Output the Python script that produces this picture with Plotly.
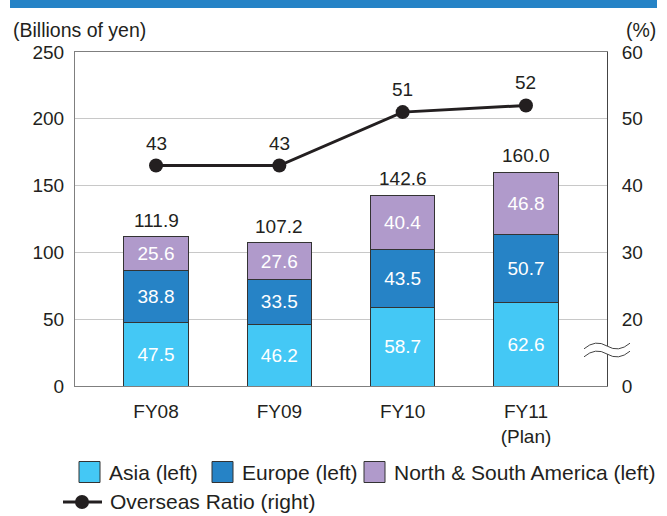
import plotly.graph_objects as go

categories = ["FY08", "FY09", "FY10", "FY11<br>(Plan)"]
asia = [47.5, 46.2, 58.7, 62.6]
europe = [38.8, 33.5, 43.5, 50.7]
americas = [25.6, 27.6, 40.4, 46.8]
totals = [111.9, 107.2, 142.6, 160.0]
ratio = [43, 43, 51, 52]

left_ticks = [0, 50, 100, 150, 200, 250]
right_tickvals = [10, 20, 30, 40, 50, 60]
right_ticktext = ["0", "20", "30", "40", "50", "60"]

FONT = "Liberation Sans, Arial, sans-serif"
FS = 19
LFS = 21
TXT = "#231F20"
C_ASIA = "#44C8F5"
C_EUR = "#2683C6"
C_AM = "#B09ACB"

series = [("Asia (left)", asia, C_ASIA),
          ("Europe (left)", europe, C_EUR),
          ("North & South America (left)", americas, C_AM)]

fig = go.Figure()
for name, vals, col in series:
    fig.add_trace(go.Bar(
        x=categories, y=vals, name=name,
        marker=dict(color=col, line=dict(color="#333333", width=1)),
        width=0.52,
        text=[f"{v:.1f}" for v in vals], textposition="inside",
        insidetextanchor="middle", textangle=0,
        textfont=dict(color="white", size=FS, family=FONT),
        hoverinfo="skip", showlegend=False,
    ))

fig.add_trace(go.Scatter(
    x=categories, y=ratio, name="Overseas Ratio (right)", yaxis="y2",
    mode="lines+markers",
    line=dict(color=TXT, width=3),
    marker=dict(color=TXT, size=14),
    showlegend=False,
))

def px_x(p):
    return (p - 75) / 532

def px_y(p):
    return (386 - p) / 334

annotations = []
for c, t in zip(categories, totals):
    annotations.append(dict(x=c, y=t, xref="x", yref="y", text=f"{t:.1f}",
                            showarrow=False, yanchor="bottom", yshift=4,
                            font=dict(size=FS, color=TXT, family=FONT)))
for c, r in zip(categories, ratio):
    annotations.append(dict(x=c, y=r, xref="x", yref="y2", text=f"{r}",
                            showarrow=False, yanchor="bottom", yshift=10,
                            font=dict(size=FS, color=TXT, family=FONT)))
annotations.append(dict(x=px_x(11), y=px_y(30), xref="paper", yref="paper",
                        text="(Billions of yen)", showarrow=False,
                        xanchor="left", yanchor="middle",
                        font=dict(size=19.5, color=TXT, family=FONT)))
annotations.append(dict(x=px_x(658), y=px_y(30), xref="paper", yref="paper",
                        text="(%)", showarrow=False, xanchor="right", yanchor="middle",
                        font=dict(size=19.5, color=TXT, family=FONT)))

shapes = [
    dict(type="rect", xref="paper", yref="paper",
         x0=px_x(10), x1=px_x(657), y0=px_y(8), y1=px_y(0),
         fillcolor=C_EUR, line=dict(width=0), layer="above"),
]

# manual legend
r1 = 472
r2 = 502
leg_row1 = px_y(r1)
sq_x = [79, 212, 364]
half = 10.5
for (name, vals, col), sx in zip(series, sq_x):
    shapes.append(dict(type="rect", xref="paper", yref="paper",
                       x0=px_x(sx), x1=px_x(sx + 21),
                       y0=px_y(r1 + half), y1=px_y(r1 - half),
                       fillcolor=col, line=dict(color="#333333", width=1), layer="above"))
    annotations.append(dict(x=px_x(sx + 28), y=leg_row1, xref="paper", yref="paper",
                            text=name, showarrow=False, xanchor="left", yanchor="middle",
                            font=dict(size=LFS, color=TXT, family=FONT)))
shapes.append(dict(type="line", xref="paper", yref="paper",
                   x0=px_x(63), x1=px_x(102), y0=px_y(r2), y1=px_y(r2),
                   line=dict(color=TXT, width=3), layer="above"))
shapes.append(dict(type="circle", xref="paper", yref="paper",
                   x0=px_x(75), x1=px_x(89), y0=px_y(r2 + 7), y1=px_y(r2 - 7),
                   fillcolor=TXT, line=dict(color=TXT, width=0), layer="above"))
annotations.append(dict(x=px_x(108), y=px_y(515), xref="paper", yref="paper",
                        text="Overseas Ratio (right)", showarrow=False,
                        xanchor="left", yanchor="bottom",
                        font=dict(size=LFS, color=TXT, family=FONT)))

# axis break symbol
def wave(yc):
    x0, x1 = px_x(584), px_x(630)
    xm = (x0 + x1) / 2
    q1 = x0 + (x1 - x0) * 0.25
    a = 7 / 334
    return f"M {x0},{yc - a*0.4} Q {q1},{yc + a} {xm},{yc} T {x1},{yc + a*0.4}"

y_a, y_b = px_y(346), px_y(354)
shapes.append(dict(type="path", xref="paper", yref="paper",
                   path=f"M {px_x(596)},{y_a} L {px_x(618)},{y_a} L {px_x(618)},{y_b} L {px_x(596)},{y_b} Z",
                   fillcolor="white", line=dict(width=0), layer="above"))
shapes.append(dict(type="path", xref="paper", yref="paper", path=wave(y_a),
                   line=dict(color="#444444", width=1), layer="above"))
shapes.append(dict(type="path", xref="paper", yref="paper", path=wave(y_b),
                   line=dict(color="#444444", width=1), layer="above"))

fig.update_layout(
    width=667, height=516,
    margin=dict(l=75, r=60, t=52, b=130, autoexpand=False),
    paper_bgcolor="white", plot_bgcolor="white",
    barmode="stack",
    font=dict(family=FONT, size=FS, color=TXT),
    showlegend=False,
    xaxis=dict(range=[-0.657, 3.657], showgrid=False, showline=True, linecolor="#7f7f7f",
               linewidth=1, mirror=True, ticks="", tickfont=dict(size=FS),
               ticklabelstandoff=8, fixedrange=True),
    yaxis=dict(range=[0, 250], tickvals=left_ticks, showgrid=True, gridcolor="#C8C8C8",
               gridwidth=1, zeroline=False, showline=True, linecolor="#7f7f7f", linewidth=1,
               ticks="", tickfont=dict(size=FS), ticklabelstandoff=6),
    yaxis2=dict(range=[10, 60], tickvals=right_tickvals, ticktext=right_ticktext,
                overlaying="y", side="right", showgrid=False, zeroline=False,
                showline=True, linecolor="#444444", linewidth=1, ticks="",
                tickfont=dict(size=FS), ticklabelstandoff=10),
    annotations=annotations,
    shapes=shapes,
)

fig.write_html("out.html")
